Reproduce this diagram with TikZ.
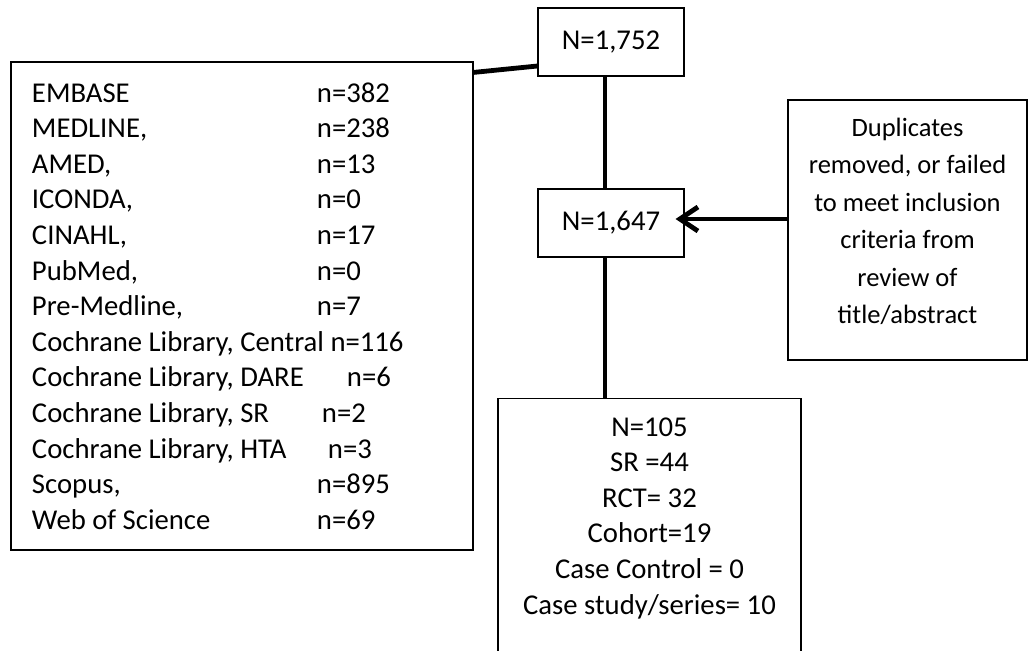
\documentclass[tikz,border=0pt]{standalone}
\usepackage{fontspec}
\setmainfont{Carlito}
\usetikzlibrary{arrows.meta}
\newcommand\dbrow[3]{\makebox[#1][l]{#2}#3}
\begin{document}
\begin{tikzpicture}[x=0.5pt,y=-0.5pt,
  box/.style={draw=black,line width=0.6pt,inner sep=0pt},
  conn/.style={line width=2.4pt,line cap=butt},
  mainfont/.style={font=\fontsize{14.35pt}{17.8pt}\selectfont},
  sidefont/.style={font=\fontsize{13.25pt}{18.7pt}\selectfont}]
\useasboundingbox (0,0) rectangle (1029,650);

% boxes
\node[box,mainfont,minimum width=73pt,minimum height=34pt] (top) at (611,42) {N=1,752};
\node[box,mainfont,minimum width=73pt,minimum height=34pt] (mid) at (611,223) {N=1,647};
\node[box,mainfont,minimum width=231pt,minimum height=244pt,
      inner xsep=10.5pt,text width=210pt,align=flush left] (src) at (242,306)
 {\dbrow{142.5pt}{EMBASE}{n=382}\\
  \dbrow{142.5pt}{MEDLINE,}{n=238}\\
  \dbrow{142.5pt}{AMED,}{n=13}\\
  \dbrow{142.5pt}{ICONDA,}{n=0}\\
  \dbrow{142.5pt}{CINAHL,}{n=17}\\
  \dbrow{142.5pt}{PubMed,}{n=0}\\
  \dbrow{142.5pt}{Pre-Medline,}{n=7}\\
  Cochrane Library, Central n=116\\
  \dbrow{157.5pt}{Cochrane Library, DARE}{n=6}\\
  \dbrow{145pt}{Cochrane Library, SR}{n=2}\\
  \dbrow{148pt}{Cochrane Library, HTA}{n=3}\\
  \dbrow{142.5pt}{Scopus,}{n=895}\\
  \dbrow{142.5pt}{Web of Science}{n=69}};
\node[box,sidefont,minimum width=119.5pt,minimum height=130pt,align=center] (excl) at (907.5,230)
 {Duplicates\\removed, or failed\\to meet inclusion\\criteria from\\review of\\title/abstract\\[-9.5pt]\mbox{}};
\node[box,mainfont,minimum width=151.5pt,minimum height=135pt,align=center,anchor=north] (res) at (649.5,398)
 {N=105\\SR =44\\RCT= 32\\Cohort=19\\Case Control = 0\\Case study/series= 10\\\mbox{}};

% connectors
\draw[conn] ([yshift=-5.5pt]src.north east) -- ([yshift=-12pt]top.west);
\draw[conn] ([xshift=-3pt]top.south) -- ([xshift=-3pt]mid.north);
\draw[conn] ([xshift=-3pt]mid.south) -- ([xshift=-3pt]mid.south |- res.north);
\draw[conn,-{Straight Barb[length=9pt,width=12pt]}] ([yshift=5.5pt]excl.west) -- ([xshift=-4.5pt,yshift=2pt]mid.east);
\end{tikzpicture}
\end{document}
